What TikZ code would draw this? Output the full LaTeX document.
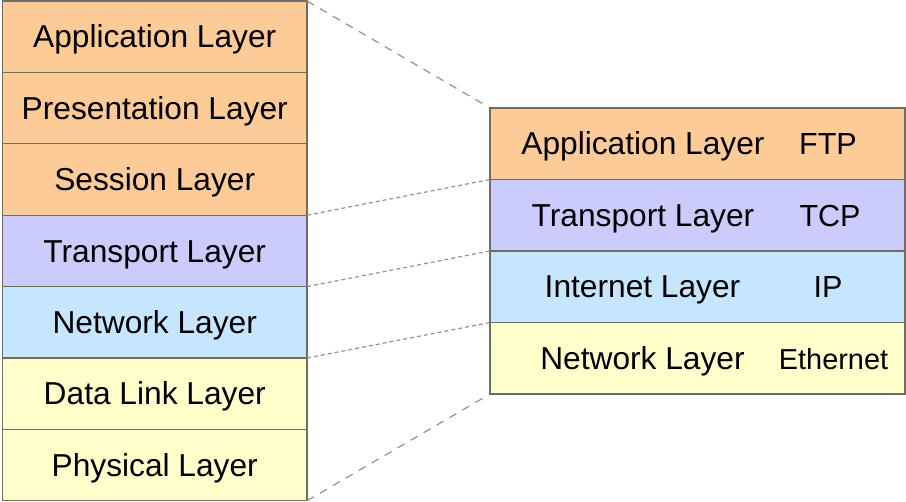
\documentclass[tikz,border=0pt]{standalone}
\usepackage{fontspec}
\setmainfont{Liberation Sans}
\usepackage{tikz}
\usetikzlibrary{positioning}
\definecolor{appcol}{HTML}{FDCB98}
\definecolor{transcol}{HTML}{CCCCFC}
\definecolor{netcol}{HTML}{C6E6FF}
\definecolor{linkcol}{HTML}{FFFFCC}
\definecolor{edgecol}{HTML}{6E6E60}

\begin{document}
\begin{tikzpicture}[x=1pt, y=1pt,
    layer/.style={draw=edgecol, line width=1.3pt, outer sep=0pt, inner sep=0pt,
      minimum width=304.5pt, minimum height=71.4pt, text height=22.5pt, text depth=0pt,
      font=\fontsize{31.7}{36}\selectfont},
    tcpip/.style={layer, minimum width=415pt, minimum height=71.5pt},
    word/.style={inner sep=0pt, text height=22.5pt, text depth=0pt, font=\fontsize{31.7}{36}\selectfont},
    proto/.style={inner sep=0pt, text height=22pt, text depth=0pt, font=\fontsize{30.5}{36}\selectfont},
    bigdash/.style={draw=gray!85, line width=1.2pt, dash pattern=on 8pt off 7pt, shorten >=8pt},
    smalldash/.style={draw=gray!85, line width=1.2pt, dash pattern=on 4pt off 3pt}]
        \useasboundingbox (0,0) rectangle (906,-502);
        % OSI stack
        \node[layer, fill=appcol] (osi1) at (154.75,-36.7) {Application Layer};
        \node[layer, fill=appcol, below=0pt of osi1] (osi2) {Presentation Layer};
        \node[layer, fill=appcol, below=0pt of osi2] (osi3) {Session Layer};
        \node[layer, fill=transcol, below=0pt of osi3] (osi4) {Transport Layer};
        \node[layer, fill=netcol, below=0pt of osi4] (osi5) {Network Layer};
        \node[layer, fill=linkcol, below=0pt of osi5] (osi6) {Data Link Layer};
        \node[layer, fill=linkcol, below=0pt of osi6] (osi7) {Physical Layer};
        % TCP/IP stack
        \node[tcpip, fill=appcol] (tcp1) at (697.5,-143.75) {};
        \node[tcpip, fill=transcol, below=0pt of tcp1] (tcp2) {};
        \node[tcpip, fill=netcol, below=0pt of tcp2] (tcp3) {};
        \node[tcpip, fill=linkcol, below=0pt of tcp3] (tcp4) {};
        \node[word] (name1) at ([xshift=-54.5pt]tcp1.center) {Application Layer};
        \node[word] (name2) at ([xshift=-54.5pt]tcp2.center) {Transport Layer};
        \node[word] (name3) at ([xshift=-55pt]tcp3.center) {Internet Layer};
        \node[word] (name4) at ([xshift=-55pt]tcp4.center) {Network Layer};
        \node[proto] (proto1) at ([xshift=130.5pt]tcp1.center) {FTP};
        \node[proto] (proto2) at ([xshift=132.5pt]tcp2.center) {TCP};
        \node[proto] (proto3) at ([xshift=130.5pt]tcp3.center) {IP};
        \node[proto, font=\fontsize{28.9}{34}\selectfont] (proto4) at ([xshift=136pt]tcp4.center) {Ethernet};
        % mapping lines
        \draw[bigdash] (osi1.north east) -- (tcp1.north west);
        \draw[smalldash] (osi3.south east) -- (tcp1.south west);
        \draw[smalldash] (osi4.south east) -- (tcp2.south west);
        \draw[smalldash] (osi5.south east) -- (tcp3.south west);
        \draw[bigdash] (osi7.south east) -- (tcp4.south west);
\end{tikzpicture}
\end{document}
